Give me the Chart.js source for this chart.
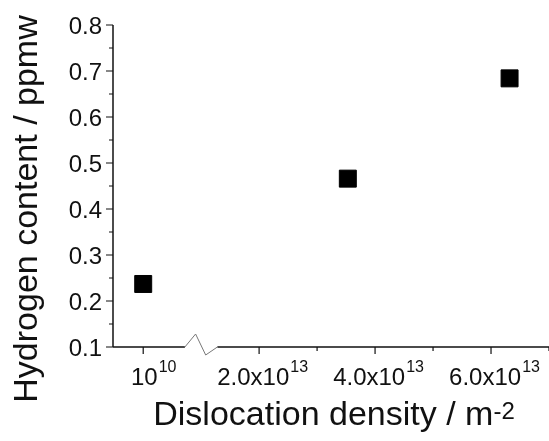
<!DOCTYPE html>
<html lang="en">
<head>
    <meta charset="UTF-8">
    <title>Hydrogen content vs dislocation density</title>
    <style>
        body { margin: 0; background: #fff; }
        canvas { display: block; }
    </style>
</head>
<body>
    <canvas id="hChart" width="549" height="441"></canvas>

    <script src="https://cdn.jsdelivr.net/npm/chart.js"></script>
    <script>
        // data
        const densities = [1e10, 3.53e13, 6.32e13];     // m^-2
        const hydrogen = [0.237, 0.466, 0.684];         // ppmw

        // axis ticks
        const yMajorTicks = [0.1, 0.2, 0.3, 0.4, 0.5, 0.6, 0.7, 0.8];
        const yMinorTicks = [0.15, 0.25, 0.35, 0.45, 0.55, 0.65, 0.75];
        const xMajorTicks = [1e10, 2e13, 4e13, 6e13];
        const xTickMain = ['10', '2.0x10', '4.0x10', '6.0x10'];
        const xTickExp = ['10', '13', '13', '13'];
        const xMinorTicks = [3e13, 5e13, 7e13];

        // axis break between these two x values
        const breakFrom = 7.2e12;
        const breakTo = 1.28e13;

        const FONT = '"Liberation Sans", Arial, sans-serif';
        const INK = '#111';

        // draws the Origin-style axes, ticks, labels and titles
        const axesPlugin = {
            id: 'axes',
            afterDatasetsDraw(chart) {
                const ctx = chart.ctx;
                const xs = chart.scales.x;
                const ys = chart.scales.y;
                const area = chart.chartArea;
                const y0 = ys.getPixelForValue(0.1);
                const bx1 = xs.getPixelForValue(breakFrom);
                const bx2 = xs.getPixelForValue(breakTo);

                ctx.save();
                ctx.strokeStyle = INK;
                ctx.lineWidth = 1.5;

                // y axis line
                ctx.beginPath();
                ctx.moveTo(area.left, ys.getPixelForValue(0.8));
                ctx.lineTo(area.left, y0);
                ctx.stroke();

                // x axis line, in two parts
                ctx.beginPath();
                ctx.moveTo(area.left, y0);
                ctx.lineTo(bx1, y0);
                ctx.moveTo(bx2, y0);
                ctx.lineTo(area.right, y0);
                ctx.stroke();

                // break zigzag
                ctx.strokeStyle = '#777';
                ctx.lineWidth = 1;
                ctx.beginPath();
                ctx.moveTo(bx1, y0);
                ctx.lineTo(bx1 + (bx2 - bx1) * 0.33, y0 - 13);
                ctx.lineTo(bx1 + (bx2 - bx1) * 0.64, y0 + 8);
                ctx.lineTo(bx2, y0);
                ctx.stroke();

                // ticks
                ctx.strokeStyle = INK;
                ctx.lineWidth = 1.2;
                ctx.beginPath();
                yMajorTicks.forEach(v => {
                    const p = ys.getPixelForValue(v);
                    ctx.moveTo(area.left - 7, p);
                    ctx.lineTo(area.left, p);
                });
                yMinorTicks.forEach(v => {
                    const p = ys.getPixelForValue(v);
                    ctx.moveTo(area.left - 4, p);
                    ctx.lineTo(area.left, p);
                });
                xMajorTicks.forEach(v => {
                    const p = xs.getPixelForValue(v);
                    ctx.moveTo(p, y0);
                    ctx.lineTo(p, y0 + 7);
                });
                xMinorTicks.forEach(v => {
                    const p = xs.getPixelForValue(v);
                    ctx.moveTo(p, y0);
                    ctx.lineTo(p, y0 + 4);
                });
                ctx.stroke();

                ctx.fillStyle = INK;

                // y tick labels
                ctx.font = '24px ' + FONT;
                ctx.textAlign = 'right';
                ctx.textBaseline = 'alphabetic';
                yMajorTicks.forEach(v => {
                    ctx.fillText(v.toFixed(1), area.left - 11, ys.getPixelForValue(v) + 8.5);
                });

                // x tick labels with superscript exponents
                ctx.textAlign = 'left';
                xMajorTicks.forEach((v, i) => {
                    ctx.font = '24px ' + FONT;
                    const wMain = ctx.measureText(xTickMain[i]).width;
                    ctx.font = '16px ' + FONT;
                    const wExp = ctx.measureText(xTickExp[i]).width;
                    const shift = i === 0 ? 10 : 3;
                    const start = xs.getPixelForValue(v) + shift - (wMain + wExp) / 2;
                    ctx.font = '24px ' + FONT;
                    ctx.fillText(xTickMain[i], start, y0 + 38);
                    ctx.font = '16px ' + FONT;
                    ctx.fillText(xTickExp[i], start + wMain + 1, y0 + 25);
                });

                // x title
                const xTitle = 'Dislocation density / m';
                ctx.font = '34px ' + FONT;
                const wT = ctx.measureText(xTitle).width;
                ctx.font = '24px ' + FONT;
                const wS = ctx.measureText('-2').width;
                const tStart = 334 - (wT + wS) / 2;
                ctx.font = '34px ' + FONT;
                ctx.fillText(xTitle, tStart, 425);
                ctx.font = '24px ' + FONT;
                ctx.fillText('-2', tStart + wT, 419);

                // y title
                ctx.translate(37, (ys.getPixelForValue(0.8) + y0) / 2 + 23);
                ctx.rotate(-Math.PI / 2);
                ctx.textAlign = 'center';
                ctx.font = '34px ' + FONT;
                ctx.fillText('Hydrogen content / ppmw', 0, 0);

                ctx.restore();
            }
        };

        const ctx = document.getElementById('hChart').getContext('2d');
        const hChart = new Chart(ctx, {
            type: 'scatter',
            data: {
                datasets: [{
                    label: 'Hydrogen content',
                    data: densities.map((d, i) => ({ x: d, y: hydrogen[i] })),
                    pointStyle: 'rect',
                    pointRadius: 12,
                    backgroundColor: '#000',
                    borderColor: '#000',
                    borderWidth: 1,
                    clip: false
                }]
            },
            options: {
                responsive: false,
                animation: false,
                layout: {
                    autoPadding: false,
                    padding: { left: 113, top: 25, right: 0, bottom: 94 }
                },
                plugins: {
                    legend: { display: false },
                    tooltip: { enabled: false }
                },
                scales: {
                    x: { type: 'linear', min: -5.2e12, max: 7e13, display: false },
                    y: { min: 0.1, max: 0.8, display: false }
                }
            },
            plugins: [axesPlugin]
        });
    </script>
</body>
</html>
